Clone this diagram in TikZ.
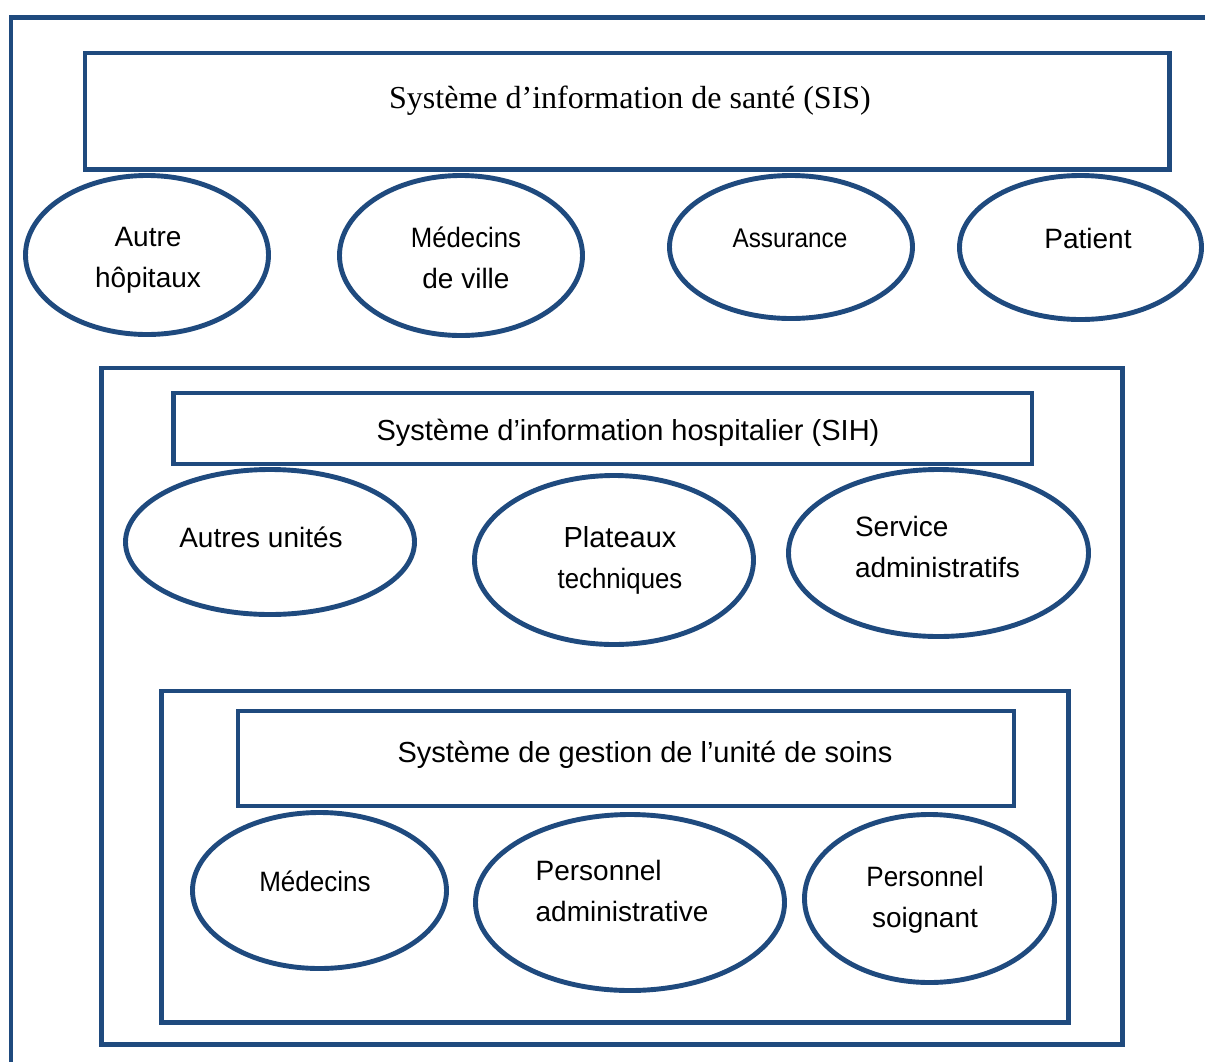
\documentclass[tikz,border=0pt]{standalone}
\usepackage{fontspec}
\usepackage{graphicx}
\setmainfont{Liberation Sans}
\newfontfamily\seriffamily{Liberation Serif}
\usetikzlibrary{shapes.geometric}
\definecolor{frameblue}{RGB}{31,74,126}
\newcommand{\squeeze}[2]{\scalebox{#1}[1]{#2}}
\begin{document}
\begin{tikzpicture}[x=1pt,y=-1pt,
  boxline/.style={draw=frameblue, line width=4.9pt},
  framebox/.style={boxline, rectangle, inner sep=0pt},
  oval/.style={boxline, ellipse, inner sep=0pt},
  lbl/.style={font=\fontsize{28}{41}\selectfont, align=center, inner sep=0pt},
  lbll/.style={font=\fontsize{28}{41}\selectfont, align=left, inner sep=0pt},
  head/.style={font=\fontsize{29}{35}\selectfont, inner sep=0pt}]
\useasboundingbox (0,0) rectangle (1205,1061);
\clip (0,0) rectangle (1205,1061);
% outer frame (only left and top edges visible)
\coordinate (outerbl) at (11,1075);
\coordinate (outertl) at (11,17.5);
\coordinate (outertr) at (1220,17.5);
\draw[boxline, line join=miter] (outerbl) -- (outertl) -- (outertr);
% SIS
\node[framebox, minimum width=1084.5pt, minimum height=116.5pt] (sisbox) at (627.25,111.25) {};
\node[font=\seriffamily\fontsize{32}{38}\selectfont, inner sep=0pt] (sistext) at (630,101) {Système d’information de santé (SIS)};
\node[oval, minimum width=243pt, minimum height=159pt] (e1) at (147,255) {};
\node[oval, minimum width=243pt, minimum height=160pt] (e2) at (461,255.5) {};
\node[oval, minimum width=243pt, minimum height=143pt] (e3) at (791,247) {};
\node[oval, minimum width=242pt, minimum height=144pt] (e4) at (1080.5,247.5) {};
\node[lbl] (t1) at (148,260) {Autre\\hôpitaux};
\node[lbl] (t2) at (466,258) {\squeeze{0.92}{Médecins}\\de ville};
\node[lbl, font=\fontsize{27}{41}\selectfont] (t3) at (790,238) {\squeeze{0.9}{Assurance}};
\node[lbl] (t4) at (1088,238) {Patient};
% SIH
\node[framebox, minimum width=1021pt, minimum height=676.5pt] (sihframe) at (612,706.25) {};
\node[framebox, minimum width=858.5pt, minimum height=71pt] (sihbox) at (602.75,428.5) {};
\node[head] (sihtext) at (628,432.5) {Système d’information hospitalier (SIH)};
\node[oval, minimum width=289pt, minimum height=145pt] (e5) at (270,542) {};
\node[oval, minimum width=279pt, minimum height=169pt] (e6) at (614,560) {};
\node[oval, minimum width=300pt, minimum height=167pt] (e7) at (938.5,553) {};
\node[lbl] (t5) at (261,537) {Autres unités};
\node[lbl] (t6) at (620,560) {\fontsize{29}{41}\selectfont Plateaux\\\squeeze{0.92}{techniques}};
\node[lbll] (t7) at (937.5,547) {Service\\administratifs};
% unit
\node[framebox, minimum width=907pt, minimum height=331.5pt] (unitframe) at (615,856.75) {};
\node[framebox, minimum width=776pt, minimum height=95pt] (unitbox) at (626,758.5) {};
\node[head] (unittext) at (645,754.5) {Système de gestion de l’unité de soins};
\node[oval, minimum width=254pt, minimum height=156pt] (e8) at (319.5,890.5) {};
\node[oval, minimum width=309pt, minimum height=176pt] (e9) at (630,902.5) {};
\node[oval, minimum width=250pt, minimum height=168pt] (e10) at (929.5,898.5) {};
\node[lbl] (t8) at (315,881) {\squeeze{0.93}{Médecins}};
\node[lbll] (t9) at (622,891) {Personnel\\administrative};
\node[lbl] (t10) at (925,900) {\squeeze{0.93}{Personnel}\\soignant};
\end{tikzpicture}
\end{document}
